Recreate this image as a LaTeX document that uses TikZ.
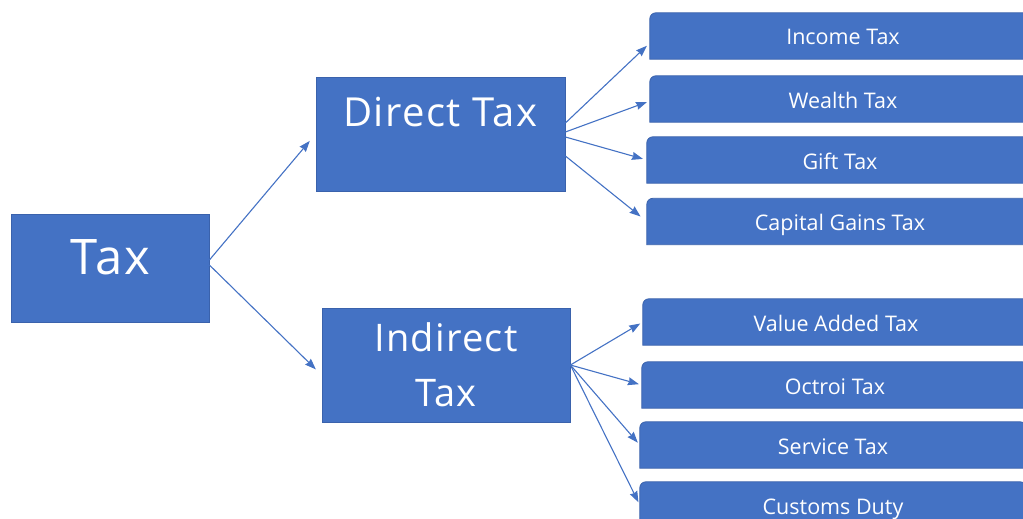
\documentclass[tikz,border=0pt]{standalone}
\usepackage{fontspec}
\setmainfont{Open Sans}
\newfontfamily\boxfont[LetterSpace=3.5]{Open Sans}
\usetikzlibrary{positioning}
\usetikzlibrary{arrows.meta}
\usetikzlibrary{backgrounds}
\definecolor{taxblue}{HTML}{4472C4}
\definecolor{taxedge}{HTML}{3A62AC}

\begin{document}
\begin{tikzpicture}[x=1pt,y=-1pt]
        \tikzstyle{mainbox}=[fill=taxblue, draw=taxedge, line width=0.8pt,
            text=white, inner sep=0pt]
        \tikzstyle{leaf}=[text=white, inner sep=0pt, minimum width=386pt,
            text height=32pt, text depth=14pt,
            font=\fontsize{21.5}{24}\selectfont]
        \tikzstyle{link}=[-{Stealth[length=11pt, width=8pt, inset=1pt]},
            taxblue, line width=1.1pt]

            \useasboundingbox (0,0) rectangle (1023,519);
            \clip (0,0) rectangle (1023,519);

            \node[mainbox, minimum width=198pt, text height=60pt, text depth=48pt,
                font=\boxfont\fontsize{49}{51}\selectfont] (tax) at (110,268) {Tax};
            \node[mainbox, minimum width=249pt, text height=49.5pt, text depth=64.5pt,
                font=\boxfont\fontsize{40}{42}\selectfont] (direct) at (440.5,134) {Direct Tax};
            \node[mainbox, minimum width=248pt, minimum height=114pt, align=center,
                font=\boxfont\fontsize{38}{55}\selectfont] (indirect) at (446,365) {Indirect\\Tax};

            \node[leaf] (income) at (843,36) {Income Tax};
            \node[leaf] (wealth) at (843,99) {Wealth Tax};
            \node[leaf] (gift) at (840,160) {Gift Tax};
            \node[leaf] (capital) at (840,221.5) {Capital Gains Tax};
            \node[leaf] (vat) at (836,322) {Value Added Tax};
            \node[leaf] (octroi) at (835,385) {Octroi Tax};
            \node[leaf] (service) at (833,445) {Service Tax};
            \node[leaf] (customs) at (833,505) {Customs Duty};

            % leaf boxes: rounded at the top only
            \begin{scope}[on background layer]
            \foreach \leafname in {income,wealth,gift,capital,vat,octroi,service,customs}
                \filldraw[fill=taxblue, draw=taxedge, line width=0.8pt]
                (\leafname.south west) -- ([yshift=-6pt]\leafname.north west)
                arc[start angle=180, end angle=90, radius=6pt]
                -- ([xshift=-6pt]\leafname.north east)
                arc[start angle=90, end angle=0, radius=6pt]
                -- (\leafname.south east) -- cycle;
            \end{scope}

            \draw[link, shorten >=9pt] ([yshift=8pt]tax.east) -- (direct.west);
            \draw[link, shorten >=8pt] ([yshift=3pt]tax.east) -- ([yshift=-10pt]indirect.west);

            \draw[link, shorten >=4pt] ([yshift=11pt]direct.east) -- ([yshift=-7pt]income.west);
            \draw[link, shorten >=3pt] ([yshift=2pt]direct.east) -- ([yshift=-2pt]wealth.west);
            \draw[link, shorten >=4pt] ([yshift=-3pt]direct.east) -- (gift.west);
            \draw[link, shorten >=8pt] ([yshift=-22pt]direct.east) -- (capital.west);

            \foreach \leafname in {vat,octroi,service,customs}
                \draw[link, shorten >=3pt] (indirect.east) -- (\leafname.west);
        \end{tikzpicture}
\end{document}
